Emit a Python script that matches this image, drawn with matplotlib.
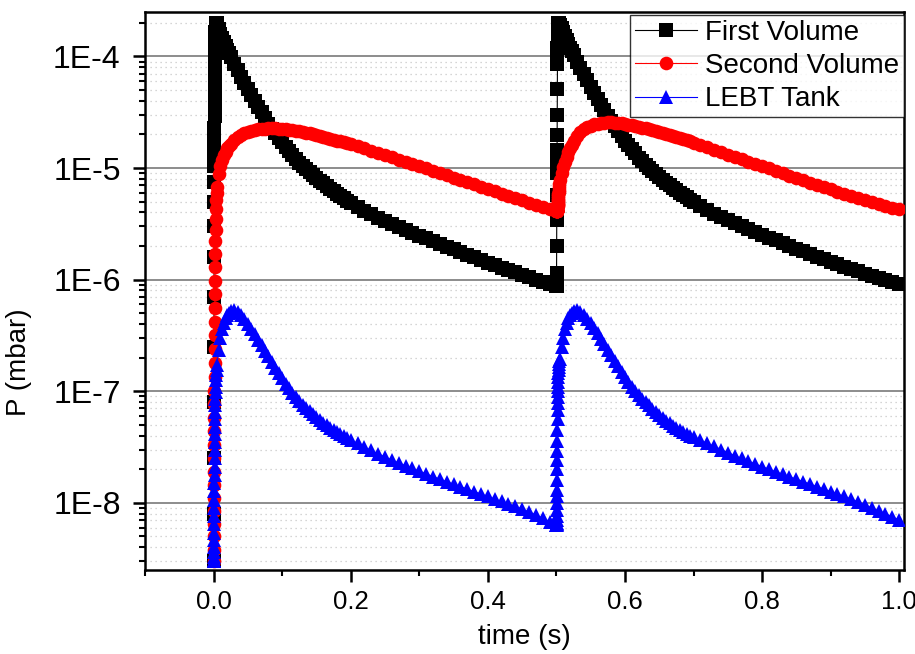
import numpy as np
import matplotlib
matplotlib.use('Agg')
import matplotlib.pyplot as plt
from matplotlib import font_manager
from matplotlib.ticker import FixedLocator, LogLocator, FuncFormatter, NullFormatter

# time offsets inside one pulse (s); pulses start at 0 and 0.5 s
t_pulse = [0, 0.0001, 0.0002, 0.0003, 0.0004, 0.0005, 0.0006, 0.0007, 0.0008, 0.0009,
           0.001, 0.0011, 0.0012, 0.0013, 0.0014, 0.0015, 0.0016, 0.0017, 0.0018, 0.0019,
           0.002, 0.0022, 0.0024, 0.0026, 0.0028, 0.003, 0.0033, 0.0036, 0.004, 0.0045,
           0.005, 0.0075, 0.01, 0.0125, 0.015, 0.0175, 0.02, 0.0225, 0.025,
           0.03, 0.035, 0.04, 0.045, 0.05, 0.055, 0.06, 0.065, 0.07, 0.075,
           0.08, 0.085, 0.09, 0.095, 0.1, 0.105, 0.11, 0.115, 0.12, 0.125,
           0.13, 0.135, 0.14, 0.145, 0.15, 0.155, 0.16, 0.165, 0.17, 0.175,
           0.18, 0.185, 0.19, 0.195, 0.2,
           0.21, 0.22, 0.23, 0.24, 0.25, 0.26, 0.27, 0.28, 0.29, 0.3,
           0.31, 0.32, 0.33, 0.34, 0.35, 0.36, 0.37, 0.38, 0.39, 0.4,
           0.41, 0.42, 0.43, 0.44, 0.45, 0.46, 0.47, 0.48, 0.49]
pulse_start = [0.0, 0.5]
t_end = 1.0

# First Volume (mbar)
first_1 = [3e-9, 8e-9, 2.5e-8, 8e-8, 2.5e-7, 7e-7, 1.6e-6, 3e-6, 5e-6, 7.5e-6,
           1.05e-5, 1.4e-5, 1.8e-5, 2.3e-5, 2.9e-5, 3.6e-5, 4.5e-5, 5.5e-5, 6.7e-5, 8e-5,
           9.5e-5, 1.12e-4, 1.3e-4, 1.48e-4, 1.64e-4, 1.78e-4, 1.9e-4, 1.97e-4, 2.0e-4, 1.98e-4,
           1.92e-4, 1.75e-4, 1.6e-4, 1.47e-4, 1.35e-4, 1.25e-4, 1.15e-4, 1.07e-4, 9.9e-5,
           8.6e-5, 7.5e-5, 6.6e-5, 5.8e-5, 5.1e-5, 4.5e-5, 4.0e-5, 3.55e-5, 3.15e-5, 2.8e-5,
           2.5e-5, 2.25e-5, 2.05e-5, 1.85e-5, 1.7e-5, 1.55e-5, 1.42e-5, 1.3e-5, 1.2e-5, 1.12e-5,
           1.05e-5, 9.8e-6, 9.2e-6, 8.6e-6, 8.1e-6, 7.7e-6, 7.3e-6, 6.9e-6, 6.55e-6, 6.2e-6,
           5.9e-6, 5.6e-6, 5.35e-6, 5.1e-6, 4.9e-6,
           4.5e-6, 4.15e-6, 3.85e-6, 3.6e-6, 3.35e-6, 3.15e-6, 2.95e-6, 2.78e-6, 2.62e-6, 2.48e-6,
           2.35e-6, 2.22e-6, 2.1e-6, 1.98e-6, 1.87e-6, 1.77e-6, 1.67e-6, 1.58e-6, 1.5e-6, 1.42e-6,
           1.35e-6, 1.28e-6, 1.22e-6, 1.16e-6, 1.1e-6, 1.05e-6, 1.0e-6, 9.6e-7, 9.2e-7]
first_2 = [8.8e-7, 8.8e-7, 8.8e-7, 1.14e-6, 2.0e-6, 3.4e-6, 5.7e-6, 9e-6, 1.1e-5, 1.25e-5,
           1.44e-5, 1.96e-5, 3.0e-5, 5.1e-5, 8.6e-5, 1.02e-4, 1.18e-4, 1.35e-4, 1.52e-4, 1.68e-4,
           1.82e-4, 1.92e-4, 1.98e-4, 2.0e-4, 2.0e-4, 1.99e-4, 1.98e-4, 1.97e-4, 1.96e-4, 1.95e-4,
           1.93e-4, 1.78e-4, 1.65e-4, 1.52e-4, 1.4e-4, 1.3e-4, 1.2e-4, 1.11e-4, 1.03e-4,
           9.0e-5, 7.9e-5, 6.9e-5, 6.1e-5, 5.35e-5, 4.7e-5, 4.15e-5, 3.7e-5, 3.3e-5, 2.95e-5,
           2.63e-5, 2.36e-5, 2.13e-5, 1.93e-5, 1.76e-5, 1.61e-5, 1.47e-5, 1.35e-5, 1.24e-5, 1.15e-5,
           1.07e-5, 1.0e-5, 9.4e-6, 8.8e-6, 8.3e-6, 7.8e-6, 7.4e-6, 7.0e-6, 6.65e-6, 6.3e-6,
           6.0e-6, 5.7e-6, 5.45e-6, 5.2e-6, 4.95e-6,
           4.55e-6, 4.2e-6, 3.9e-6, 3.65e-6, 3.4e-6, 3.2e-6, 3.0e-6, 2.82e-6, 2.66e-6, 2.52e-6,
           2.38e-6, 2.25e-6, 2.13e-6, 2.01e-6, 1.9e-6, 1.8e-6, 1.7e-6, 1.61e-6, 1.53e-6, 1.45e-6,
           1.38e-6, 1.31e-6, 1.25e-6, 1.19e-6, 1.13e-6, 1.08e-6, 1.03e-6, 9.9e-7, 9.5e-7,
           9.2e-7]

# Second Volume (mbar)
second_1 = [3e-9, 3.8e-9, 5e-9, 6.5e-9, 8.5e-9, 1.1e-8, 1.45e-8, 1.9e-8, 2.5e-8, 3.3e-8,
            4.4e-8, 5.8e-8, 7.7e-8, 1.0e-7, 1.35e-7, 1.8e-7, 2.4e-7, 3.2e-7, 4.2e-7, 5.6e-7,
            7.4e-7, 9.8e-7, 1.3e-6, 1.7e-6, 2.2e-6, 2.8e-6, 3.5e-6, 4.3e-6, 5.2e-6, 6.0e-6,
            6.8e-6, 8.8e-6, 1.05e-5, 1.18e-5, 1.3e-5, 1.4e-5, 1.5e-5, 1.58e-5, 1.65e-5,
            1.78e-5, 1.88e-5, 1.97e-5, 2.04e-5, 2.1e-5, 2.15e-5, 2.19e-5, 2.22e-5, 2.24e-5, 2.25e-5,
            2.26e-5, 2.26e-5, 2.26e-5, 2.25e-5, 2.24e-5, 2.22e-5, 2.2e-5, 2.18e-5, 2.16e-5, 2.13e-5,
            2.1e-5, 2.07e-5, 2.04e-5, 2.0e-5, 1.97e-5, 1.94e-5, 1.9e-5, 1.87e-5, 1.83e-5, 1.8e-5,
            1.76e-5, 1.73e-5, 1.7e-5, 1.66e-5, 1.63e-5,
            1.57e-5, 1.5e-5, 1.43e-5, 1.37e-5, 1.31e-5, 1.25e-5, 1.19e-5, 1.14e-5, 1.09e-5, 1.04e-5,
            9.9e-6, 9.45e-6, 9.0e-6, 8.6e-6, 8.2e-6, 7.85e-6, 7.5e-6, 7.15e-6, 6.8e-6, 6.5e-6,
            6.2e-6, 5.9e-6, 5.65e-6, 5.4e-6, 5.15e-6, 4.9e-6, 4.7e-6, 4.5e-6, 4.3e-6]
second_2 = [4.1e-6, 4.1e-6, 4.1e-6, 4.1e-6, 4.1e-6, 4.1e-6, 4.1e-6, 4.1e-6, 4.1e-6, 4.12e-6,
            4.15e-6, 4.18e-6, 4.22e-6, 4.27e-6, 4.33e-6, 4.4e-6, 4.48e-6, 4.57e-6, 4.67e-6, 4.78e-6,
            4.9e-6, 5.05e-6, 5.2e-6, 5.4e-6, 5.6e-6, 5.85e-6, 6.1e-6, 6.4e-6, 6.8e-6, 7.2e-6,
            7.8e-6, 9.0e-6, 1.02e-5, 1.13e-5, 1.25e-5, 1.38e-5, 1.5e-5, 1.62e-5, 1.75e-5,
            1.95e-5, 2.1e-5, 2.22e-5, 2.32e-5, 2.4e-5, 2.46e-5, 2.5e-5, 2.53e-5, 2.55e-5, 2.56e-5,
            2.56e-5, 2.55e-5, 2.53e-5, 2.51e-5, 2.48e-5, 2.45e-5, 2.42e-5, 2.38e-5, 2.34e-5, 2.3e-5,
            2.26e-5, 2.22e-5, 2.18e-5, 2.14e-5, 2.1e-5, 2.05e-5, 2.01e-5, 1.97e-5, 1.93e-5, 1.89e-5,
            1.85e-5, 1.81e-5, 1.77e-5, 1.73e-5, 1.69e-5,
            1.61e-5, 1.53e-5, 1.46e-5, 1.39e-5, 1.32e-5, 1.26e-5, 1.2e-5, 1.14e-5, 1.09e-5, 1.04e-5,
            9.9e-6, 9.4e-6, 8.95e-6, 8.5e-6, 8.1e-6, 7.75e-6, 7.4e-6, 7.05e-6, 6.75e-6, 6.45e-6,
            6.15e-6, 5.9e-6, 5.65e-6, 5.4e-6, 5.15e-6, 4.95e-6, 4.75e-6, 4.55e-6, 4.4e-6,
            4.25e-6]

# LEBT Tank (mbar)
lebt_1 = [3e-9, 3e-9, 3.1e-9, 3.3e-9, 3.6e-9, 4e-9, 4.6e-9, 5.4e-9, 6.4e-9, 7.6e-9,
          9e-9, 1.07e-8, 1.27e-8, 1.5e-8, 1.77e-8, 2.1e-8, 2.5e-8, 2.95e-8, 3.5e-8, 4.1e-8,
          4.8e-8, 5.6e-8, 6.5e-8, 7.5e-8, 8.6e-8, 9.8e-8, 1.1e-7, 1.25e-7, 1.4e-7, 1.55e-7,
          1.7e-7, 2.35e-7, 3.0e-7, 3.6e-7, 4.1e-7, 4.5e-7, 4.8e-7, 5.05e-7, 5.2e-7,
          5.3e-7, 5.1e-7, 4.8e-7, 4.4e-7, 4.0e-7, 3.6e-7, 3.25e-7, 2.9e-7, 2.6e-7, 2.3e-7,
          2.05e-7, 1.82e-7, 1.62e-7, 1.45e-7, 1.3e-7, 1.17e-7, 1.06e-7, 9.7e-8, 8.9e-8, 8.2e-8,
          7.6e-8, 7.1e-8, 6.6e-8, 6.2e-8, 5.85e-8, 5.5e-8, 5.2e-8, 4.95e-8, 4.7e-8, 4.5e-8,
          4.3e-8, 4.1e-8, 3.95e-8, 3.8e-8, 3.65e-8,
          3.4e-8, 3.15e-8, 2.95e-8, 2.75e-8, 2.58e-8, 2.42e-8, 2.28e-8, 2.15e-8, 2.03e-8, 1.92e-8,
          1.82e-8, 1.72e-8, 1.63e-8, 1.55e-8, 1.47e-8, 1.4e-8, 1.33e-8, 1.26e-8, 1.2e-8, 1.14e-8,
          1.08e-8, 1.03e-8, 9.8e-9, 9.3e-9, 8.8e-9, 8.3e-9, 7.8e-9, 7.3e-9, 6.8e-9]
lebt_2 = [6.3e-9, 6.3e-9, 6.3e-9, 6.4e-9, 6.6e-9, 7e-9, 7.6e-9, 8.6e-9, 1.0e-8, 1.15e-8,
          1.3e-8, 1.6e-8, 2.0e-8, 2.4e-8, 2.9e-8, 3.6e-8, 4.5e-8, 5.6e-8, 6.8e-8, 7.8e-8,
          8.9e-8, 1.0e-7, 1.1e-7, 1.22e-7, 1.35e-7, 1.45e-7, 1.55e-7, 1.65e-7, 1.75e-7, 1.85e-7,
          1.95e-7, 2.5e-7, 3.0e-7, 3.6e-7, 4.1e-7, 4.5e-7, 4.8e-7, 5.05e-7, 5.2e-7,
          5.3e-7, 5.15e-7, 4.85e-7, 4.45e-7, 4.05e-7, 3.65e-7, 3.3e-7, 2.95e-7, 2.65e-7, 2.35e-7,
          2.1e-7, 1.87e-7, 1.67e-7, 1.5e-7, 1.35e-7, 1.22e-7, 1.1e-7, 1.01e-7, 9.3e-8, 8.6e-8,
          8.0e-8, 7.45e-8, 6.95e-8, 6.5e-8, 6.1e-8, 5.75e-8, 5.45e-8, 5.15e-8, 4.9e-8, 4.7e-8,
          4.5e-8, 4.3e-8, 4.15e-8, 4.0e-8, 3.85e-8,
          3.65e-8, 3.42e-8, 3.2e-8, 3.0e-8, 2.82e-8, 2.65e-8, 2.5e-8, 2.36e-8, 2.23e-8, 2.11e-8,
          2.0e-8, 1.9e-8, 1.8e-8, 1.71e-8, 1.63e-8, 1.55e-8, 1.47e-8, 1.4e-8, 1.33e-8, 1.26e-8,
          1.2e-8, 1.14e-8, 1.08e-8, 1.02e-8, 9.6e-9, 9.0e-9, 8.5e-9, 8.0e-9, 7.5e-9,
          7.0e-9]

time = [pulse_start[0] + t for t in t_pulse] + [pulse_start[1] + t for t in t_pulse] + [t_end]
first_volume = first_1 + first_2
second_volume = second_1 + second_2
lebt_tank = lebt_1 + lebt_2

# Origin-like fonts: Arial metrics, narrow face for the x axis if present
installed = {f.name for f in font_manager.fontManager.ttflist}
regular = ['Liberation Sans', 'DejaVu Sans']
if 'Liberation Sans Narrow' in installed:
    narrow = ['Liberation Sans Narrow', 'Liberation Sans']
    xsize, xlabsize = 22, 22
else:
    narrow = regular
    xsize, xlabsize = 18.5, 20
plt.rcParams['font.family'] = regular

fig = plt.figure(figsize=(9.15, 6.54), dpi=100)
ax = fig.add_axes([145 / 915, 84 / 654, 759 / 915, 558 / 654])

ms = 9.4
ax.plot(time, first_volume, color='black', lw=0.8, marker='s', ms=ms, mew=0,
        label='First Volume', zorder=3)
ax.plot(time, second_volume, color='red', lw=0.8, marker='o', ms=ms + 0.4, mew=0,
        label='Second Volume', zorder=4)
ax.plot(time, lebt_tank, color='blue', lw=0.8, marker='^', ms=ms + 0.6, mew=0,
        label='LEBT Tank', zorder=5)

ax.set_yscale('log')
ax.set_ylim(2.5e-9, 2.5e-4)
ax.set_xlim(-0.1, 1.007)

ax.xaxis.set_major_locator(FixedLocator([0.0, 0.2, 0.4, 0.6, 0.8, 1.0]))
ax.xaxis.set_minor_locator(FixedLocator([-0.1, 0.1, 0.3, 0.5, 0.7, 0.9]))
ax.xaxis.set_major_formatter(FuncFormatter(lambda v, p: f'{v:.1f}'))
ax.yaxis.set_major_locator(LogLocator(base=10, numticks=20))
ax.yaxis.set_minor_locator(LogLocator(base=10, subs=np.arange(2, 10), numticks=20))
ax.yaxis.set_minor_formatter(NullFormatter())
ax.yaxis.set_major_formatter(FuncFormatter(lambda v, p: f'1E{int(round(np.log10(v)))}'))

ax.grid(True, which='major', axis='y', color='#8c8c8c', lw=1.4, zorder=0)
ax.grid(True, which='minor', axis='y', color='#c8c8c8', lw=0.9, ls=(0, (1, 3)), zorder=0)
ax.set_axisbelow(True)

for s in ax.spines.values():
    s.set_linewidth(1.8)
ax.tick_params(axis='both', which='major', direction='out', length=8.5, width=1.8)
ax.tick_params(axis='both', which='minor', direction='out', length=4.5, width=1.5)
ax.tick_params(axis='y', which='major', labelsize=23, pad=9)
ax.tick_params(axis='x', which='major', labelsize=xsize, pad=6)
for lab in ax.get_xticklabels():
    lab.set_family(narrow)

ax.set_xlabel('time (s)', fontsize=xlabsize, family=narrow, labelpad=7)
ax.set_ylabel('P (mbar)', fontsize=20)
ax.yaxis.set_label_coords(-0.149, 0.373)

leg = ax.legend(loc='upper right', bbox_to_anchor=(1.0, 0.995), borderaxespad=0,
                fontsize=20, frameon=True, fancybox=False, handlelength=2.2,
                handletextpad=0.3, labelspacing=0.26, borderpad=0.18, markerscale=1.0)
leg.get_frame().set_edgecolor('black')
leg.get_frame().set_linewidth(1.0)

fig.savefig('out.png', dpi=100)
